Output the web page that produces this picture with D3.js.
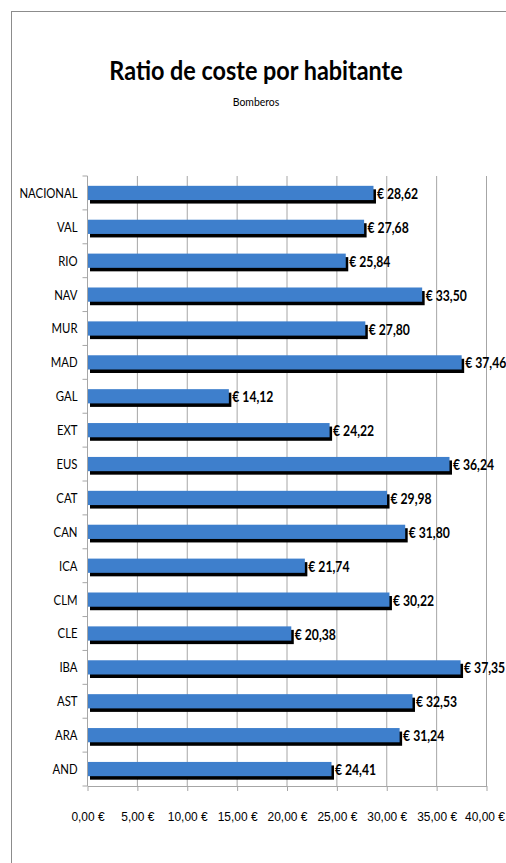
<!DOCTYPE html>
<html>
<head>
<meta charset="utf-8">
<script src="https://cdn.jsdelivr.net/npm/d3@7"></script>
<style>
  body { margin: 0; background: #fff; }
  svg { display: block; font-family: Lato, "Open Sans", sans-serif; }
  .grid line { stroke: #a6a6a6; }
  .axis path, .axis line { stroke: #a6a6a6; }
  .axis text { fill: #000; }
</style>
</head>
<body>
<svg id="chart"></svg>
<script>
const REGIONS = ["NACIONAL", "VAL", "RIO", "NAV", "MUR", "MAD", "GAL", "EXT", "EUS", "CAT", "CAN", "ICA", "CLM", "CLE", "IBA", "AST", "ARA", "AND"];
const COSTS = [28.62, 27.68, 25.84, 33.50, 27.80, 37.46, 14.12, 24.22, 36.24, 29.98, 31.80, 21.74, 30.22, 20.38, 37.35, 32.53, 31.24, 24.41];
const X_TICKS = [0, 5, 10, 15, 20, 25, 30, 35, 40];

const WIDTH = 506, HEIGHT = 863;
const MARGIN = {top: 176, right: 20, bottom: 77, left: 87.5};
const PLOT_H = HEIGHT - MARGIN.top - MARGIN.bottom;
// Lato is wider than the Calibri of the original, squeeze text a bit
const NARROW = 0.87;

const es = d3.formatLocale({decimal: ",", thousands: ".", grouping: [3], currency: ["", " €"]});
const fmt = es.format(".2f");

let x = d3.scaleLinear().domain([0, 40]).range([0, 399]);
let y = d3.scaleBand().domain(REGIONS).range([0, PLOT_H]).paddingInner(0.58).paddingOuter(0.29);

let svg = d3.select("#chart").attr("width", WIDTH).attr("height", HEIGHT);

// outer frame
svg.append("rect")
   .attr("x", 11.5).attr("y", 11.5)
   .attr("width", WIDTH + 10).attr("height", HEIGHT + 10)
   .attr("fill", "none").attr("stroke", "#8c8c8c");

svg.append("text")
   .attr("transform", `translate(256,80) scale(0.9,1)`)
   .attr("text-anchor", "middle")
   .style("font-size", "26px").style("font-weight", "bold")
   .text("Ratio de coste por habitante");

svg.append("text")
   .attr("transform", `translate(256,106) scale(${NARROW},1)`)
   .attr("text-anchor", "middle")
   .style("font-size", "12px")
   .text("Bomberos");

let chart = svg.append("g").attr("transform", `translate(${MARGIN.left},${MARGIN.top})`);

// vertical gridlines
chart.append("g").attr("class", "grid")
     .selectAll("line").data(X_TICKS.slice(1)).enter().append("line")
     .attr("x1", d => x(d)).attr("x2", d => x(d))
     .attr("y1", 0).attr("y2", PLOT_H);

// x axis
chart.append("g").attr("class", "axis")
     .attr("transform", `translate(0,${PLOT_H})`)
     .call(d3.axisBottom(x).tickValues(X_TICKS).tickSize(5).tickSizeOuter(0).tickPadding(21)
             .tickFormat(d => fmt(d) + " €"))
     .selectAll("text")
     .attr("transform", (d, i) => d === 40 ? `translate(-2,0) scale(0.92,1)` : `scale(0.92,1)`)
     .style("font-size", "13px");

// y axis with ticks between categories
let yAxis = chart.append("g").attr("class", "axis");
yAxis.append("line").attr("x1", 0).attr("x2", 0).attr("y1", 0).attr("y2", PLOT_H);
yAxis.selectAll(".sep").data(d3.range(REGIONS.length + 1)).enter().append("line")
     .attr("x1", -5).attr("x2", 0)
     .attr("y1", i => i * y.step()).attr("y2", i => i * y.step());
yAxis.selectAll(".lab").data(REGIONS).enter().append("text")
     .attr("transform", d => `translate(-10,${y(d) + y.bandwidth() / 2}) scale(0.81,1)`)
     .attr("dy", "0.35em")
     .attr("text-anchor", "end")
     .style("font-size", "14px")
     .text(d => d);

let rows = chart.selectAll(".row").data(REGIONS.map((r, i) => ({region: r, cost: COSTS[i]})))
                .enter().append("g");

// shadow
rows.append("rect")
    .attr("x", 2.5)
    .attr("y", d => y(d.region) + 3.5)
    .attr("width", d => x(d.cost) + 0.5)
    .attr("height", y.bandwidth())
    .attr("fill", "#000");

rows.append("rect")
    .attr("x", 0.5)
    .attr("y", d => y(d.region))
    .attr("width", d => x(d.cost))
    .attr("height", y.bandwidth())
    .attr("fill", "#3e7fcc");

rows.append("text")
    .attr("transform", d => `translate(${x(d.cost) + 4},${y(d.region) + y.bandwidth() / 2 + 1}) scale(0.84,1)`)
    .attr("dy", "0.35em")
    .style("font-size", "14.5px").style("font-weight", "bold")
    .text(d => "€ " + fmt(d.cost));
</script>
</body>
</html>
